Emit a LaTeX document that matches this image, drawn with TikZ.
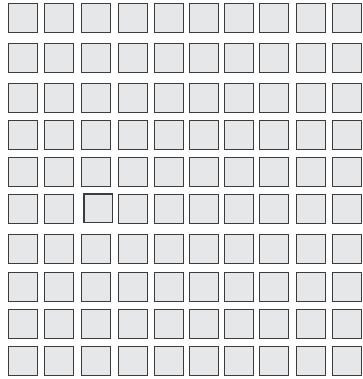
\documentclass[tikz,border=0pt]{standalone}
\usepackage{tikz}
\definecolor{cellgray}{HTML}{E6E7E8}
\definecolor{celledge}{HTML}{3C3C3C}
\tikzset{
  cell/.style={draw=celledge, fill=cellgray, line width=1.1pt, minimum size=28.9pt,
    inner sep=0pt, outer sep=0pt, anchor=north west},
  cell-6-3/.style={xshift=2.4pt, yshift=0.6pt}
}

\begin{document}
\begin{tikzpicture}[x=1pt, y=1pt]
    \useasboundingbox (0,0) rectangle (362,-379);
    \foreach \r/\y in {1/3.3, 2/42.7, 3/82.7, 4/120, 5/156.7, 6/194, 7/234, 8/271.7, 9/309, 10/345.7}
      \foreach \c/\x in {1/8.3, 2/44.3, 3/81, 4/118.3, 5/154, 6/189.3, 7/224.3, 8/259.3, 9/296, 10/331.7}
        \node[cell, cell-\r-\c/.try] (sq-\r-\c) at (\x+0.55,-\y-0.55) {};
\end{tikzpicture}
\end{document}
